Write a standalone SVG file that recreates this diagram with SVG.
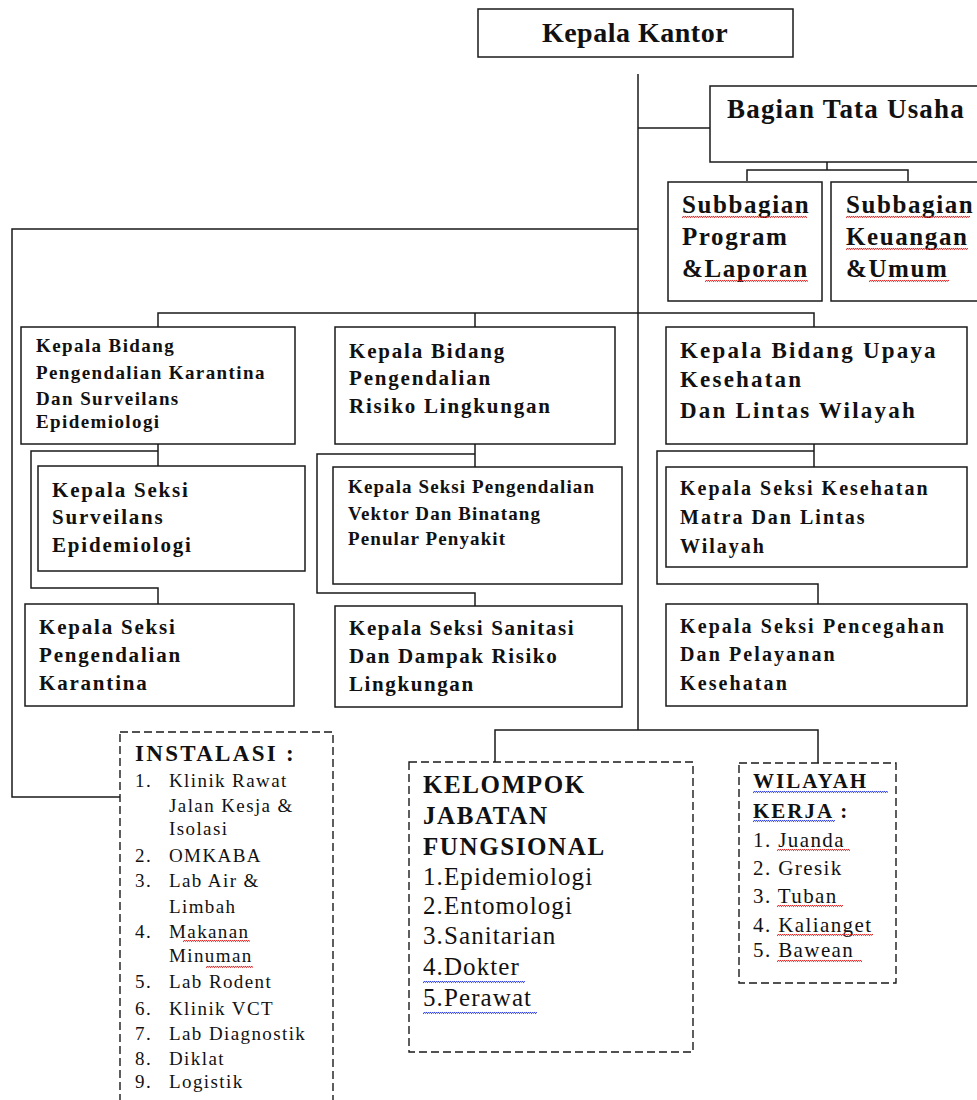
<svg xmlns="http://www.w3.org/2000/svg" width="977" height="1100" viewBox="0 0 977 1100">
  <style>
    .box { fill: #fff; stroke: #1a1a1a; stroke-width: 1.5; }
    .dash { fill: #fff; stroke: #1a1a1a; stroke-width: 1.4; stroke-dasharray: 8 4; }
    .conn { fill: none; stroke: #1a1a1a; stroke-width: 1.5; }
    .b { font-family: "Liberation Serif", "Times New Roman", serif; font-weight: bold; fill: #111; }
    .r { font-family: "Liberation Serif", "Times New Roman", serif; fill: #111; }
  </style>
  <defs>
    <!-- wavy spell-check underlines -->
    <pattern id="wavyRed" width="4" height="4" patternUnits="userSpaceOnUse">
      <path d="M0 3.2 Q1 0.4 2 1.8 T4 0.8" fill="none" stroke="#e02424" stroke-width="1"/>
    </pattern>
    <pattern id="wavyBlue" width="4" height="4" patternUnits="userSpaceOnUse">
      <path d="M0 3.2 Q1 0.4 2 1.8 T4 0.8" fill="none" stroke="#2b3ee0" stroke-width="1"/>
    </pattern>
  </defs>
  <rect width="977" height="1100" fill="#fff"/>

  <!-- connectors -->
  <g id="connectors" class="conn">
    <path d="M638 74 V730"/>
    <path d="M638 128 H710"/>
    <path d="M827 162 V170 M747 181 V170 H908 V181"/>
    <path d="M638 229 H12 V797 H120"/>
    <path d="M158 327 V313 H814 V327 M475 313 V327"/>
    <path d="M158 444 V466 M158 451 H31 V588 H158 V604"/>
    <path d="M475 444 V467 M475 454 H317 V593 H475 V606"/>
    <path d="M814 444 V467 M814 451 H657 V584 H818 V604"/>
    <path d="M495 762 V730 H818 V763"/>
  </g>

  <g id="kepala-kantor">
    <rect class="box" x="478" y="9" width="315" height="48"/>
    <text class="b" x="635" y="42" font-size="28" letter-spacing="0.5" text-anchor="middle">Kepala Kantor</text>
  </g>

  <g id="bagian-tata-usaha">
    <rect class="box" x="710" y="86" width="280" height="76"/>
    <text class="b" x="727" y="118" font-size="27" letter-spacing="1.2">Bagian Tata Usaha</text>
  </g>

  <g id="subbagian-program">
    <rect class="box" x="668" y="182" width="154" height="119"/>
    <g class="b" font-size="25" letter-spacing="1.6">
      <text x="682" y="213">Subbagian</text>
      <text x="682" y="245">Program</text>
      <text x="682" y="277">&amp;Laporan</text>
    </g>
    <rect transform="translate(682,215)" width="125" height="4" fill="url(#wavyRed)"/>
    <rect transform="translate(705,279)" width="103" height="4" fill="url(#wavyRed)"/>
  </g>

  <g id="subbagian-keuangan">
    <rect class="box" x="831" y="182" width="160" height="119"/>
    <g class="b" font-size="25" letter-spacing="1.6">
      <text x="846" y="213">Subbagian</text>
      <text x="846" y="245">Keuangan</text>
      <text x="846" y="277">&amp;Umum</text>
    </g>
    <rect transform="translate(846,215)" width="124" height="4" fill="url(#wavyRed)"/>
    <rect transform="translate(846,247)" width="122" height="4" fill="url(#wavyRed)"/>
    <rect transform="translate(869,279)" width="80" height="4" fill="url(#wavyRed)"/>
  </g>

  <g id="bidang-karantina">
    <rect class="box" x="21" y="327" width="274" height="117"/>
    <g class="b" font-size="19" letter-spacing="1.4">
      <text x="36" y="352">Kepala Bidang</text>
      <text x="36" y="379">Pengendalian Karantina</text>
      <text x="36" y="405">Dan Surveilans</text>
      <text x="36" y="428">Epidemiologi</text>
    </g>
  </g>

  <g id="seksi-surveilans">
    <rect class="box" x="38" y="466" width="267" height="105"/>
    <g class="b" font-size="21" letter-spacing="1.8">
      <text x="52" y="497">Kepala Seksi</text>
      <text x="52" y="524">Surveilans</text>
      <text x="52" y="552">Epidemiologi</text>
    </g>
  </g>

  <g id="seksi-karantina">
    <rect class="box" x="25" y="604" width="269" height="102"/>
    <g class="b" font-size="21" letter-spacing="1.8">
      <text x="39" y="634">Kepala Seksi</text>
      <text x="39" y="662">Pengendalian</text>
      <text x="39" y="690">Karantina</text>
    </g>
  </g>

  <g id="bidang-risiko">
    <rect class="box" x="335" y="327" width="280" height="117"/>
    <g class="b" font-size="21" letter-spacing="1.8">
      <text x="349" y="358">Kepala Bidang</text>
      <text x="349" y="385">Pengendalian</text>
      <text x="349" y="413">Risiko Lingkungan</text>
    </g>
  </g>

  <g id="seksi-vektor">
    <rect class="box" x="333" y="467" width="289" height="117"/>
    <g class="b" font-size="19" letter-spacing="1.1">
      <text x="348" y="493">Kepala Seksi Pengendalian</text>
      <text x="348" y="520">Vektor Dan Binatang</text>
      <text x="348" y="545">Penular Penyakit</text>
    </g>
  </g>

  <g id="seksi-sanitasi">
    <rect class="box" x="335" y="606" width="287" height="101"/>
    <g class="b" font-size="21" letter-spacing="1.6">
      <text x="349" y="635">Kepala Seksi Sanitasi</text>
      <text x="349" y="663">Dan Dampak Risiko</text>
      <text x="349" y="691">Lingkungan</text>
    </g>
  </g>

  <g id="bidang-upaya">
    <rect class="box" x="666" y="327" width="301" height="117"/>
    <g class="b" font-size="23" letter-spacing="2.2">
      <text x="680" y="358">Kepala Bidang Upaya</text>
      <text x="680" y="387">Kesehatan</text>
      <text x="680" y="418">Dan Lintas Wilayah</text>
    </g>
  </g>

  <g id="seksi-matra">
    <rect class="box" x="666" y="467" width="301" height="100"/>
    <g class="b" font-size="20" letter-spacing="2">
      <text x="680" y="495">Kepala Seksi Kesehatan</text>
      <text x="680" y="524">Matra Dan Lintas</text>
      <text x="680" y="553">Wilayah</text>
    </g>
  </g>

  <g id="seksi-pencegahan">
    <rect class="box" x="666" y="604" width="301" height="102"/>
    <g class="b" font-size="20" letter-spacing="2.1">
      <text x="680" y="633">Kepala Seksi Pencegahan</text>
      <text x="680" y="661">Dan Pelayanan</text>
      <text x="680" y="690">Kesehatan</text>
    </g>
  </g>

  <g id="instalasi">
    <rect class="dash" x="120" y="732" width="213" height="380"/>
    <text class="b" x="135" y="761" font-size="23" letter-spacing="2.3">INSTALASI :</text>
    <g class="r" font-size="19" letter-spacing="1.4">
      <text x="135" y="787">1.</text><text x="169" y="787">Klinik Rawat</text>
      <text x="169" y="812">Jalan Kesja &amp;</text>
      <text x="169" y="835">Isolasi</text>
      <text x="135" y="862">2.</text><text x="169" y="862">OMKABA</text>
      <text x="135" y="887">3.</text><text x="169" y="887">Lab Air &amp;</text>
      <text x="169" y="913">Limbah</text>
      <text x="135" y="938">4.</text><text x="169" y="938">Makanan</text>
      <text x="169" y="962">Minuman</text>
      <text x="135" y="988">5.</text><text x="169" y="988">Lab Rodent</text>
      <text x="135" y="1015">6.</text><text x="169" y="1015">Klinik VCT</text>
      <text x="135" y="1040">7.</text><text x="169" y="1040">Lab Diagnostik</text>
      <text x="135" y="1065">8.</text><text x="169" y="1065">Diklat</text>
      <text x="135" y="1088">9.</text><text x="169" y="1088">Logistik</text>
    </g>
    <rect transform="translate(183,939)" width="67" height="4" fill="url(#wavyRed)"/>
    <rect transform="translate(206,965)" width="47" height="4" fill="url(#wavyRed)"/>
  </g>

  <g id="kelompok-jabatan-fungsional">
    <rect class="dash" x="409" y="762" width="284" height="290"/>
    <g class="b" font-size="25" letter-spacing="1.6">
      <text x="423" y="793">KELOMPOK</text>
      <text x="423" y="824">JABATAN</text>
      <text x="423" y="855">FUNGSIONAL</text>
    </g>
    <g class="r" font-size="25" letter-spacing="1.1">
      <text x="423" y="885">1.Epidemiologi</text>
      <text x="423" y="914">2.Entomologi</text>
      <text x="423" y="944">3.Sanitarian</text>
      <text x="423" y="975">4.Dokter</text>
      <text x="423" y="1006">5.Perawat</text>
    </g>
    <rect transform="translate(423,980)" width="102" height="4" fill="url(#wavyBlue)"/>
    <rect transform="translate(423,1011)" width="114" height="4" fill="url(#wavyBlue)"/>
  </g>

  <g id="wilayah-kerja">
    <rect class="dash" x="739" y="763" width="157" height="220"/>
    <g class="b" font-size="21" letter-spacing="2">
      <text x="753" y="788">WILAYAH</text>
      <text x="753" y="818">KERJA :</text>
    </g>
    <g class="r" font-size="21" letter-spacing="1.4">
      <text x="753" y="847">1. Juanda</text>
      <text x="753" y="875">2. Gresik</text>
      <text x="753" y="903">3. Tuban</text>
      <text x="753" y="932">4. Kalianget</text>
      <text x="753" y="957">5. Bawean</text>
    </g>
    <rect transform="translate(753,790)" width="135" height="4" fill="url(#wavyBlue)"/>
    <rect transform="translate(753,819)" width="82" height="4" fill="url(#wavyBlue)"/>
    <rect transform="translate(777,848)" width="73" height="4" fill="url(#wavyRed)"/>
    <rect transform="translate(777,904)" width="66" height="4" fill="url(#wavyRed)"/>
    <rect transform="translate(777,933)" width="96" height="4" fill="url(#wavyRed)"/>
    <rect transform="translate(777,959)" width="85" height="4" fill="url(#wavyRed)"/>
  </g>
</svg>
